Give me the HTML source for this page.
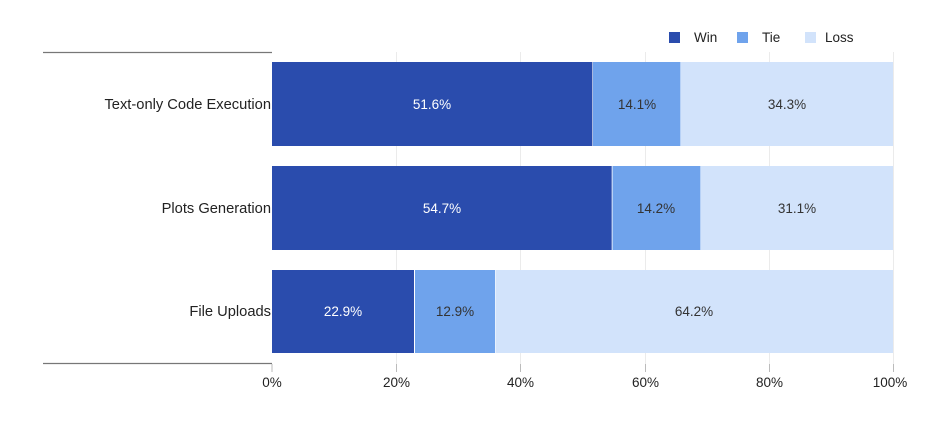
<!DOCTYPE html>
<html><head><meta charset="utf-8"><style>
body{margin:0;background:#fff}
svg text{font-family:"Liberation Sans",sans-serif}
</style></head><body>
<svg width="948" height="428" xmlns="http://www.w3.org/2000/svg">
<rect width="948" height="428" fill="#fff"/>
<g stroke="#ebebeb" stroke-width="1">
<line x1="396.5" y1="52" x2="396.5" y2="364"/>
<line x1="520.5" y1="52" x2="520.5" y2="364"/>
<line x1="645.5" y1="52" x2="645.5" y2="364"/>
<line x1="769.5" y1="52" x2="769.5" y2="364"/>
<line x1="893.5" y1="52" x2="893.5" y2="364"/>
</g>
<line x1="43" y1="52.5" x2="272" y2="52.5" stroke="#777" stroke-width="1.2"/>
<line x1="43" y1="363.5" x2="272" y2="363.5" stroke="#777" stroke-width="1.2"/>
<g stroke="#bbb"><line x1="272" y1="364" x2="272" y2="372"/><line x1="396.5" y1="364" x2="396.5" y2="372"/><line x1="520.5" y1="364" x2="520.5" y2="372"/><line x1="645.5" y1="364" x2="645.5" y2="372"/><line x1="769.5" y1="364" x2="769.5" y2="372"/><line x1="893.5" y1="364" x2="893.5" y2="372"/></g>
<rect x="272" y="62" width="320.4" height="84" fill="#2a4cad"/>
<rect x="593" y="62" width="87.5" height="84" fill="#6fa3ec"/>
<rect x="681" y="62" width="212" height="84" fill="#d2e3fb"/>
<rect x="272" y="166" width="339.7" height="84" fill="#2a4cad"/>
<rect x="612.5" y="166" width="88" height="84" fill="#6fa3ec"/>
<rect x="701" y="166" width="192" height="84" fill="#d2e3fb"/>
<rect x="272" y="270" width="142" height="83" fill="#2a4cad"/>
<rect x="415" y="270" width="80" height="83" fill="#6fa3ec"/>
<rect x="495.5" y="270" width="397.5" height="83" fill="#d2e3fb"/>
<g font-size="13.5" text-anchor="middle">
<text x="432" y="109" fill="#fff">51.6%</text>
<text x="637" y="109" fill="#333">14.1%</text>
<text x="787" y="109" fill="#333">34.3%</text>
<text x="442" y="213" fill="#fff">54.7%</text>
<text x="656" y="213" fill="#333">14.2%</text>
<text x="797" y="213" fill="#333">31.1%</text>
<text x="343" y="316" fill="#fff">22.9%</text>
<text x="455" y="316" fill="#333">12.9%</text>
<text x="694" y="316" fill="#333">64.2%</text>
</g>
<g font-size="14.7" text-anchor="end" fill="#222">
<text x="271" y="109">Text-only Code Execution</text>
<text x="271" y="213">Plots Generation</text>
<text x="271" y="316">File Uploads</text>
</g>
<g font-size="13.5" text-anchor="middle" fill="#222">
<text x="272" y="387">0%</text>
<text x="396.5" y="387">20%</text>
<text x="520.5" y="387">40%</text>
<text x="645.5" y="387">60%</text>
<text x="769.5" y="387">80%</text>
<text x="890" y="387">100%</text>
</g>
<rect x="669" y="32" width="11" height="11" fill="#2a4cad"/>
<rect x="737" y="32" width="11" height="11" fill="#6fa3ec"/>
<rect x="805" y="32" width="11" height="11" fill="#d2e3fb"/>
<g font-size="13.5" fill="#222">
<text x="694" y="42">Win</text>
<text x="762" y="42">Tie</text>
<text x="825" y="42">Loss</text>
</g>
</svg>
</body></html>
